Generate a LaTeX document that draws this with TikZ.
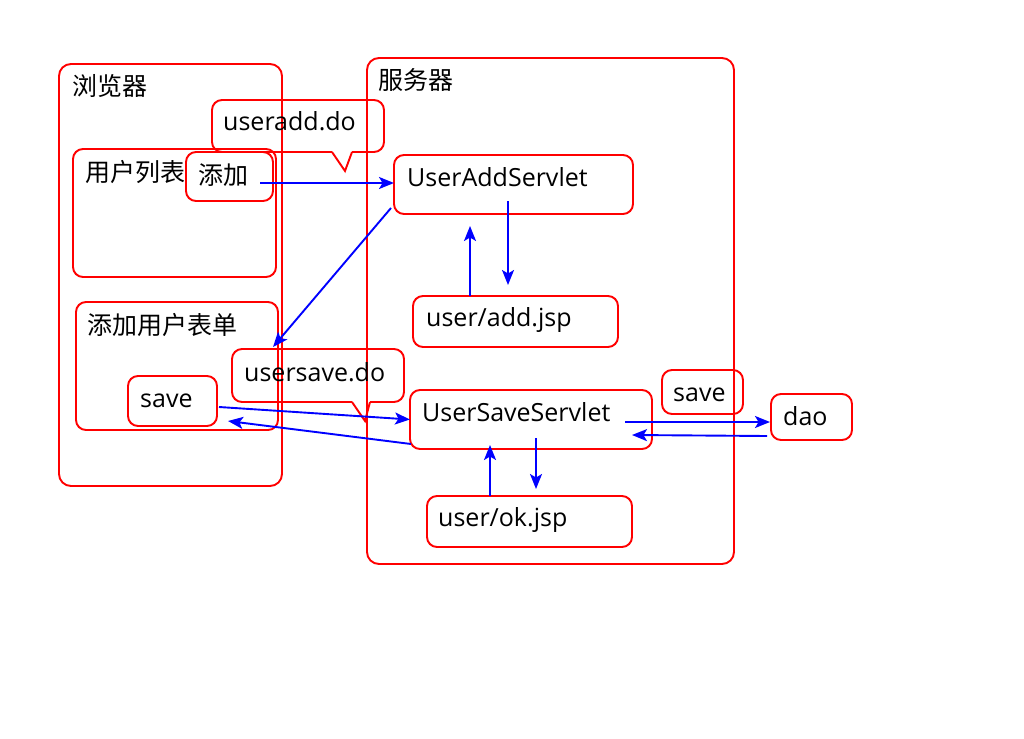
\documentclass[tikz,border=0pt]{standalone}
\usepackage{fontspec}
\setmainfont{Open Sans}
\newfontfamily\cjk{Noto Sans CJK SC}
\usetikzlibrary{calc,arrows.meta}
\begin{document}
\begin{tikzpicture}[x=1pt,y=-1pt,
  rbox/.style={draw=red, line width=1.9pt, rounded corners=10pt, inner sep=0pt, outer sep=0pt, anchor=north west},
  cl/.style={draw=red, line width=1.9pt, line join=miter},
  txt/.style={inner sep=0pt, anchor=base west, font=\fontsize{25}{30}\selectfont},
  arr/.style={draw=blue, line width=1.9pt, -{Stealth[length=15pt,width=12pt,inset=3.5pt]}}]
\useasboundingbox[fill=white] (0,0) rectangle (1024,738);
% containers
\node[rbox, rounded corners=12pt, minimum width=223pt, minimum height=422pt] (browser) at (59,64) {};
\node[rbox, rounded corners=12pt, minimum width=367pt, minimum height=506pt] (server) at (367,58) {};
\node[rbox, minimum width=203pt, minimum height=128pt] (list) at (73,149) {};
\node[rbox, minimum width=87pt, minimum height=49pt] (tj) at (186,152) {};
\node[rbox, minimum width=202pt, minimum height=128pt] (form) at (76,302) {};
\node[rbox, minimum width=89pt, minimum height=50pt] (sb) at (128,376) {};
\node[rbox, minimum width=239pt, minimum height=59pt] (uas) at (394,155) {};
\node[rbox, minimum width=205pt, minimum height=51pt] (addjsp) at (413,296) {};
\node[rbox, minimum width=242pt, minimum height=59pt] (uss) at (410,390) {};
\node[rbox, minimum width=205pt, minimum height=51pt] (okjsp) at (427,496) {};
\node[rbox, minimum width=81pt, minimum height=44pt] (sr) at (662,370) {};
\node[rbox, minimum width=81pt, minimum height=46pt] (dao) at (771,394) {};
% callouts
\coordinate (c1l) at (332,152);
\coordinate (c1r) at (352,152);
\coordinate (c1t) at (345,171);
\draw[cl] (c1r) [rounded corners=10pt] -- (384,152) -- (384,100) -- (212,100) -- (212,152) -- (c1l);
\draw[cl] (c1l) -- (c1t) -- (c1r);
\coordinate (c2l) at (352,402);
\coordinate (c2r) at (370,402);
\coordinate (c2t) at (365,421);
\draw[cl] (c2r) [rounded corners=10pt] -- (404,402) -- (404,349) -- (232,349) -- (232,402) -- (c2l);
\draw[cl] (c2l) -- (c2t) -- (c2r);
% texts
\node[txt] (tbrowser) at (72,96) {\cjk 浏览器};
\node[txt] (tserver) at (378,90) {\cjk 服务器};
\node[txt] (tlist) at (85,182) {\cjk 用户列表};
\node[txt] (ttj) at (198,184) {\cjk 添加};
\node[txt] (tuseradd) at (223,131) {useradd.do};
\node[txt] (tuas) at (407,186) {UserAddServlet};
\node[txt] (taddjsp) at (426,326) {user/add.jsp};
\node[txt] (tform) at (87,334) {\cjk 添加用户表单};
\node[txt] (tsb) at (140,407) {save};
\node[txt] (tusersave) at (244,381) {usersave.do};
\node[txt] (tuss) at (422,421) {UserSaveServlet};
\node[txt] (tokjsp) at (438,526) {user/ok.jsp};
\node[txt] (tsr) at (673,401) {save};
\node[txt] (tdao) at (783,425) {dao};
% connectors
\draw[arr] ($(tj.east |- uas.west)+(-13,-1.5)$) -- ($(uas.west)+(0,-1.5)$);
\draw[arr] ($(uas.south west)+(-3,-6)$) -- ($(form.north east)+(-5,45)$);
\draw[arr] ($(uas.south)+(-5.5,-13)$) -- ($(addjsp.north)+(-7.5,-11)$);
\draw[arr] ($(addjsp.north)+(-45.5,0)$) -- ($(uas.south)+(-43.5,12)$);
\draw[arr] ($(sb.east)+(2,6)$) -- (uss.west);
\draw[arr] ($(uss.south west)+(1,-5)$) -- ($(sb.south east)+(11,-5)$);
\draw[arr] ($(uss.east)+(-27,2.5)$) -- ($(dao.west)+(-1,5)$);
\draw[arr] ($(dao.west)+(-4,19)$) -- ($(uss.east)+(-20,15.5)$);
\draw[arr] ($(uss.south)+(5,-11)$) -- ($(okjsp.north)+(6.5,-7)$);
\draw[arr] ($(okjsp.north)+(-39.5,0)$) -- ($(uss.south)+(-41,-4)$);
\end{tikzpicture}
\end{document}
